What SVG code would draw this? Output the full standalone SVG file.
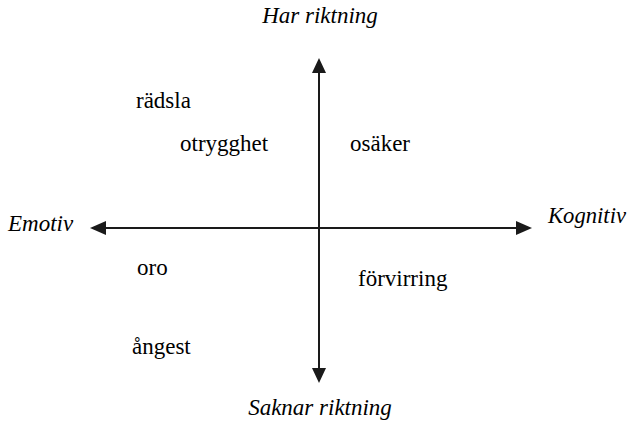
<svg xmlns="http://www.w3.org/2000/svg" width="627" height="425" viewBox="0 0 627 425">
<defs>
<style>
.ax{stroke:#1a1a1a;stroke-width:2;fill:none}
.head{fill:#1a1a1a}
.t{font-family:'Liberation Serif','Times New Roman',serif;font-size:23px;fill:#000}
.i{font-style:italic}
</style>
</defs>
<rect width="627" height="425" fill="#fff"/>
<g id="connectors">
<path class="ax" d="M319,72 L319,368"/>
<path class="ax" d="M105,228 L517,228"/>
<path class="head" d="M319,58 L312,73 L326,73 Z"/>
<path class="head" d="M319,383 L312,368 L326,368 Z"/>
<path class="head" d="M90,228 L106,221 L106,235 Z"/>
<path class="head" d="M532,228 L516,221 L516,235 Z"/>
</g>
<g id="n-har"><text class="t i" x="320" y="23" text-anchor="middle">Har riktning</text></g>
<g id="n-saknar"><text class="t i" x="320" y="415" text-anchor="middle">Saknar riktning</text></g>
<g id="n-emotiv"><text class="t i" x="8" y="231">Emotiv</text></g>
<g id="n-kognitiv"><text class="t i" x="548" y="223" textLength="78" lengthAdjust="spacingAndGlyphs">Kognitiv</text></g>
<g id="n-radsla"><text class="t" x="136" y="108">rädsla</text></g>
<g id="n-otrygghet"><text class="t" x="180" y="151">otrygghet</text></g>
<g id="n-osaker"><text class="t" x="350" y="151">osäker</text></g>
<g id="n-oro"><text class="t" x="137" y="275">oro</text></g>
<g id="n-forvirring"><text class="t" x="358" y="286">förvirring</text></g>
<g id="n-angest"><text class="t" x="132" y="354">ångest</text></g>
</svg>
